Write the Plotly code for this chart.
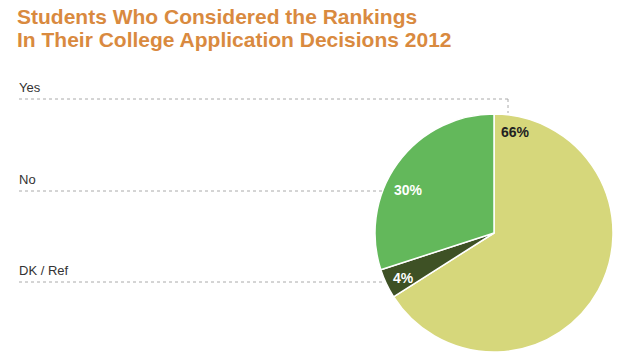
import plotly.graph_objects as go

W, H = 620, 359

labels = ["Yes", "DK / Ref", "No"]
values = [66, 4, 30]
pct_text = ["66%", "4%", "30%"]
colors = ["#D6D77B", "#3E5125", "#63B85B"]
text_colors = ["#222222", "#FFFFFF", "#FFFFFF"]
left_labels = ["Yes", "No", "DK / Ref"]
title_lines = ["Students Who Considered the Rankings",
               "In Their College Application Decisions 2012"]

def px(x, y):
    return x / W, 1 - y / H

cx, cy, r = 494, 233, 119
x0, y0 = px(cx - r, cy + r)
x1, y1 = px(cx + r, cy - r)

fig = go.Figure(go.Pie(
    labels=labels, values=values, sort=False, direction="clockwise",
    rotation=0, textinfo="none", hoverinfo="label+percent",
    marker=dict(colors=colors, line=dict(color="#FFFFFF", width=1.5)),
    domain=dict(x=[x0, x1], y=[y0, y1]), showlegend=False,
))

annotations = []
shapes = []

# title (two lines, tight spacing)
for line, ly in zip(title_lines, [17, 39]):
    tx, ty = px(16, ly)
    annotations.append(dict(
        x=tx, y=ty, xref="paper", yref="paper", xanchor="left", yanchor="middle",
        text="<b>%s</b>" % line, showarrow=False, align="left", borderpad=0,
        font=dict(family="Liberation Sans, Arial", size=21, color="#D98A3F"),
    ))

# left labels and dotted leader lines
label_y = [88, 179, 270]
line_y = [99, 191, 282]
line_end = [508, 383, 385]
for name, ly, lny, le in zip(left_labels, label_y, line_y, line_end):
    ax, ay = px(17, ly)
    annotations.append(dict(
        x=ax, y=ay, xref="paper", yref="paper", xanchor="left", yanchor="middle",
        text=name, showarrow=False,
        font=dict(family="Liberation Sans, Arial", size=13, color="#333333"),
    ))
    sx0, sy0 = px(19, lny)
    sx1, _ = px(le, lny)
    shapes.append(dict(type="line", xref="paper", yref="paper",
                       x0=sx0, y0=sy0, x1=sx1, y1=sy0,
                       line=dict(color="#AAAAAA", width=1, dash="dot")))
vx, vy0 = px(508, 99)
_, vy1 = px(508, 113)
shapes.append(dict(type="line", xref="paper", yref="paper",
                   x0=vx, y0=vy0, x1=vx, y1=vy1,
                   line=dict(color="#AAAAAA", width=1, dash="dot")))

# percentage labels on slices
pct_pos = [(515, 132), (403, 278), (408, 190)]
for t, c, (lx, ly) in zip(pct_text, text_colors, pct_pos):
    ax, ay = px(lx, ly)
    annotations.append(dict(
        x=ax, y=ay, xref="paper", yref="paper", xanchor="center", yanchor="middle",
        text="<b>%s</b>" % t, showarrow=False,
        font=dict(family="Liberation Sans, Arial", size=14, color=c),
    ))

fig.update_layout(
    width=W, height=H, margin=dict(l=0, r=0, t=0, b=0),
    paper_bgcolor="white", plot_bgcolor="white",
    annotations=annotations, shapes=shapes,
)

fig.write_html("out.html", config={"displayModeBar": False},
               post_script="document.body.style.margin='0';")
